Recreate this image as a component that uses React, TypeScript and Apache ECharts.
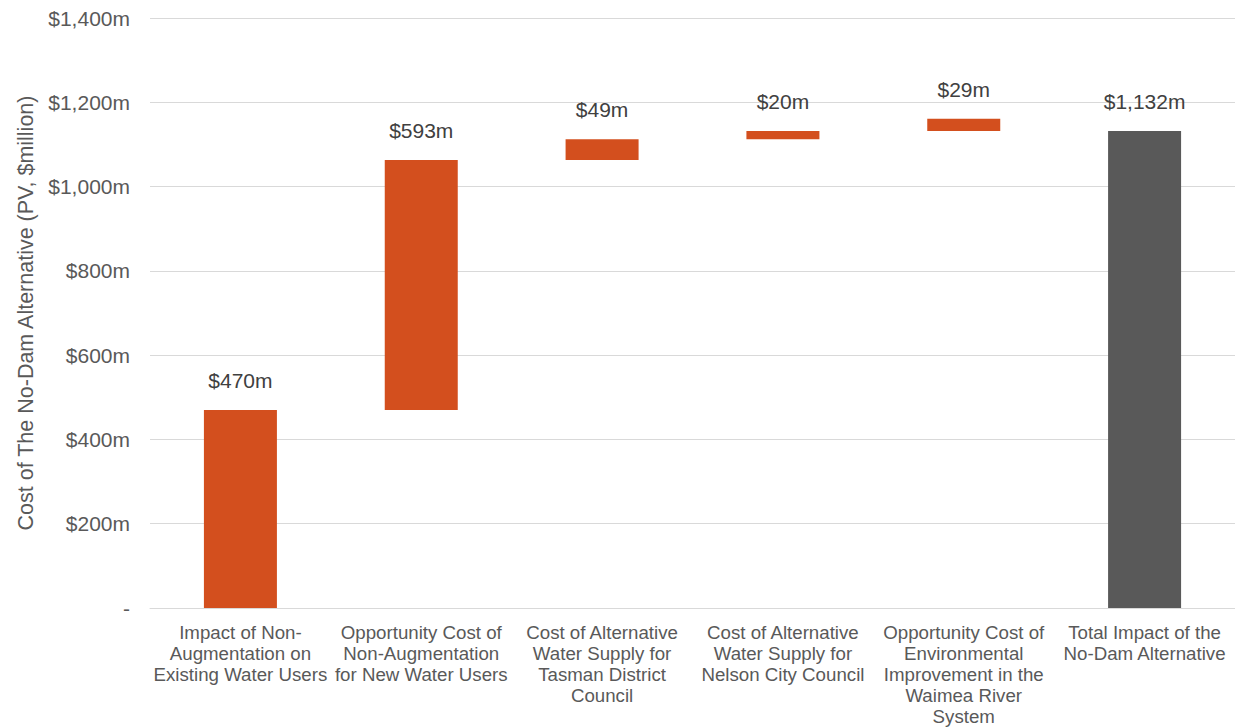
import React, { useEffect, useRef } from "react";
import * as echarts from "echarts";

const categories = [
  "Impact of Non-\nAugmentation on\nExisting Water Users",
  "Opportunity Cost of\nNon-Augmentation\nfor New Water Users",
  "Cost of Alternative\nWater Supply for\nTasman District\nCouncil",
  "Cost of Alternative\nWater Supply for\nNelson City Council",
  "Opportunity Cost of\nEnvironmental\nImprovement in the\nWaimea River\nSystem",
  "Total Impact of the\nNo-Dam Alternative",
];
const baseValues = [0, 470, 1063, 1112, 1132, 0];
const barValues = [470, 593, 49, 20, 29, 1132];
const isTotal = [false, false, false, false, false, true];

const ORANGE = "#D34F1E";
const GREY = "#595959";
const TEXT = "#595959";
const LABEL = "#404040";
const FONT = "'Liberation Sans', Arial, sans-serif";

export default function App() {
  const ref = useRef<HTMLDivElement>(null);
  useEffect(() => {
    if (!ref.current) return;
    const chart = echarts.init(ref.current, null, { renderer: "svg" });
    chart.setOption({
      animation: false,
      backgroundColor: "#ffffff",
      textStyle: { fontFamily: FONT },
      grid: { left: 150, right: 0, top: 18, bottom: 118, containLabel: false },
      xAxis: {
        type: "category",
        data: categories,
        axisLine: { show: true, lineStyle: { color: "#d9d9d9", width: 1 } },
        axisTick: { show: false },
        axisLabel: {
          color: TEXT,
          fontSize: 18.7,
          fontFamily: FONT,
          lineHeight: 21,
          margin: 14,
          interval: 0,
        },
      },
      yAxis: {
        type: "value",
        min: 0,
        max: 1400,
        interval: 200,
        name: "Cost of The No-Dam Alternative (PV, $million)",
        nameLocation: "middle",
        nameGap: 109,
        nameTextStyle: { color: TEXT, fontSize: 21.5, fontFamily: FONT },
        axisLine: { show: false },
        axisTick: { show: false },
        splitLine: { lineStyle: { color: "#d9d9d9", width: 1 } },
        axisLabel: {
          color: TEXT,
          fontSize: 21,
          fontFamily: FONT,
          margin: 20,
          formatter: (v: number) =>
            v === 0 ? "-" : "$" + v.toLocaleString("en-US") + "m",
        },
      },
      series: [
        {
          type: "bar",
          stack: "w",
          data: baseValues,
          itemStyle: { color: "transparent" },
          barWidth: 73,
          silent: true,
        },
        {
          type: "bar",
          stack: "w",
          barWidth: 73,
          data: barValues.map((v, i) => ({
            value: v,
            itemStyle: { color: isTotal[i] ? GREY : ORANGE },
          })),
          label: {
            show: true,
            position: "top",
            distance: 19,
            color: LABEL,
            fontSize: 21,
            fontFamily: FONT,
            formatter: (p: any) => "$" + Number(p.value).toLocaleString("en-US") + "m",
          },
        },
      ],
    });
    return () => chart.dispose();
  }, []);
  return (
    <div
      ref={ref}
      style={{ position: "fixed", left: 0, top: 0, width: 1235, height: 727 }}
    />
  );
}
